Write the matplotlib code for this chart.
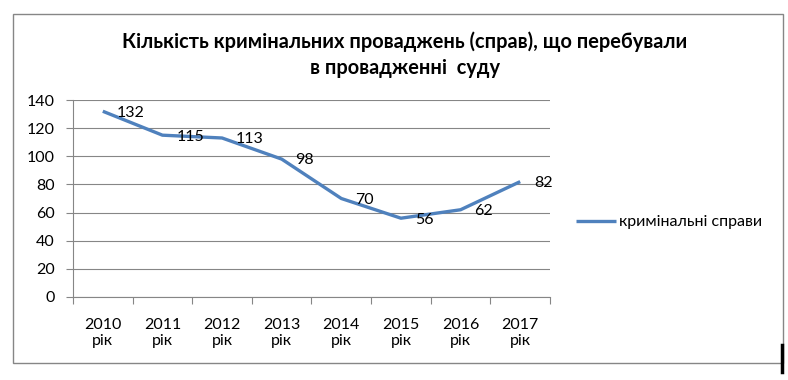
import matplotlib
matplotlib.use("Agg")
import matplotlib.pyplot as plt
from matplotlib.lines import Line2D
from matplotlib.patches import Rectangle

plt.rcParams['font.family'] = ['Lato', 'DejaVu Sans']

categories = ["2010\nрік", "2011\nрік", "2012\nрік", "2013\nрік",
              "2014\nрік", "2015\nрік", "2016\nрік", "2017\nрік"]
values = [132, 115, 113, 98, 70, 56, 62, 82]
series_name = "кримінальні справи"
title = "Кількість кримінальних проваджень (справ), що перебували\nв провадженні  суду"
yticks = [0, 20, 40, 60, 80, 100, 120, 140]

W, H = 788, 380
fig = plt.figure(figsize=(W / 100, H / 100), dpi=100)
fig.patch.set_facecolor("white")

# chart border
fig.add_artist(Rectangle((13 / W, 1 - 363 / H), (783 - 13) / W, (363 - 14) / H,
                         transform=fig.transFigure, fill=False,
                         edgecolor="#868686", linewidth=1.0))
# cursor artifact
fig.add_artist(Line2D([782 / W, 782 / W], [1 - 345 / H, 1 - 372 / H],
                      transform=fig.transFigure, color="black", linewidth=2.5))

ax = fig.add_axes([73 / W, 1 - 297 / H, (550 - 73) / W, (297 - 100) / H])
x = list(range(len(categories)))
color = "#4F81BD"
ax.plot(x, values, color=color, linewidth=2.4, solid_capstyle="butt",
        label=series_name)

for xi, v in zip(x, values):
    ax.annotate(str(v), (xi, v), xytext=(10, -1), textcoords="offset points",
                ha="left", va="center", fontsize=11.5, color="black")

ax.set_xlim(-0.5, len(categories) - 0.5)
ax.set_ylim(0, 140)
ax.set_yticks(yticks)
ax.set_yticklabels([str(t) for t in yticks], fontsize=11.5)
ax.set_xticks(x)
ax.set_xticklabels(categories, fontsize=11.5, linespacing=1.2)
ax.tick_params(axis="x", length=0, pad=15)
ax.set_xticks([i - 0.5 for i in range(len(categories) + 1)], minor=True)
ax.tick_params(axis="x", which="minor", length=5, color="#868686", width=0.8)
ax.tick_params(axis="y", length=5, color="#868686", width=0.8, pad=8)

ax.grid(axis="y", color="#868686", linewidth=0.8)
ax.set_axisbelow(True)
for s in ["top", "right"]:
    ax.spines[s].set_visible(False)
ax.spines["left"].set_color("#868686")
ax.spines["bottom"].set_color("#868686")
ax.spines["left"].set_linewidth(0.8)
ax.spines["bottom"].set_linewidth(0.8)

fig.text(405 / W, 1 - 55 / H, title, ha="center", va="center",
         fontsize=14.4, fontweight="bold", linespacing=1.4)

leg = fig.legend(loc="center left", bbox_to_anchor=(570 / W, 1 - 222 / H),
                 frameon=False, fontsize=11.5, handlelength=2.5,
                 handletextpad=0.15, borderaxespad=0)

fig.savefig("out.png", dpi=100, facecolor="white")
